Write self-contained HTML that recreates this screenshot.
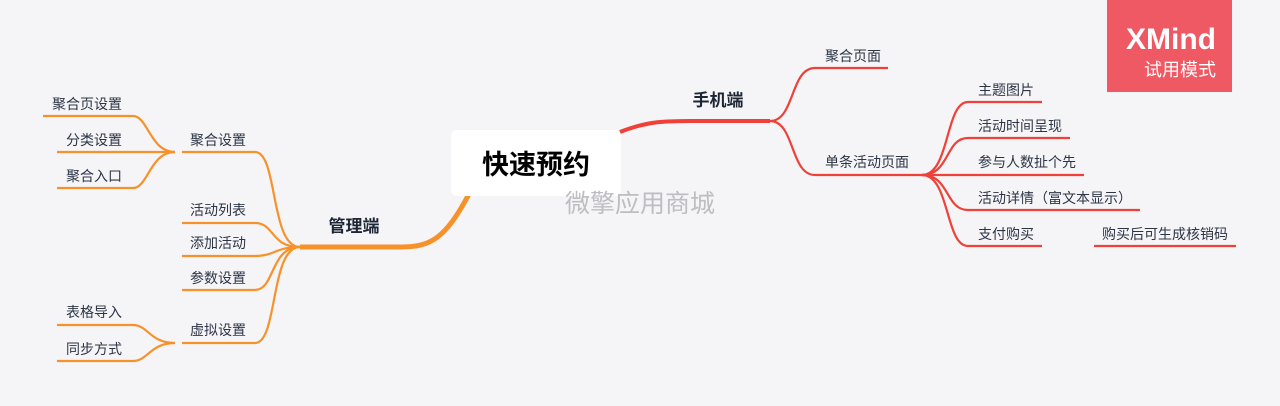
<!DOCTYPE html>
<html><head><meta charset="utf-8"><style>
body{margin:0;width:1280px;height:406px;background:#f5f5f8;overflow:hidden;font-family:"Liberation Sans","Noto Sans CJK SC",sans-serif}
</style></head><body>
<svg width="1280" height="406" xmlns="http://www.w3.org/2000/svg" style="position:absolute;left:0;top:0">
<g fill="none" stroke="#f7922b" stroke-width="2.2">
<path d="M470,192 C445,240 430,247 400,247 L300,247" stroke-width="5"/>
<path d="M300,247 C270,247 278,152 255,152 L182,152"/>
<path d="M300,247 C270,247 275,223 255,223 L182,223"/>
<path d="M300,247 C275,247 275,256 255,256 L182,256"/>
<path d="M300,247 C270,247 275,290 255,290 L182,290"/>
<path d="M300,247 C270,247 278,343 255,343 L182,343"/>
<path d="M175,152 C150,152 148,116 133,116 L43,116"/>
<path d="M175,152 L57,152"/>
<path d="M175,152 C150,152 148,188 133,188 L57,188"/>
<path d="M175,343 C150,343 148,325 133,325 L57,325"/>
<path d="M175,343 C150,343 148,361 133,361 L57,361"/>
</g>
<g fill="none" stroke="#ef4138" stroke-width="2.2">
<path d="M620,132 C650,120 670,121 700,121 L770,121" stroke-width="4"/>
<path d="M770,121 C795,121 790,68 815,68 L888,68"/>
<path d="M770,121 C795,121 790,175 815,175 L922,175"/>
<path d="M922,175 C950,175 945,102 968,102 L1042,102"/>
<path d="M922,175 C950,175 945,138 968,138 L1070,138"/>
<path d="M922,175 L1084,175"/>
<path d="M922,175 C950,175 945,210 968,210 L1140,210"/>
<path d="M922,175 C950,175 945,246 968,246 L1042,246"/>
<path d="M1094,246 L1236,246"/>
</g>
<rect x="451" y="130" width="170" height="66" rx="6" fill="#fff"/>
<g font-family="Liberation Sans,Noto Sans CJK SC,sans-serif" fill="#2d3544" font-size="14">
<text x="536" y="174" font-size="27" font-weight="bold" fill="#000" text-anchor="middle">快速预约</text>
<text x="640" y="212" font-size="25" fill="#bdbdc2" text-anchor="middle">微擎应用商城</text>
<text x="354" y="232" font-size="17" font-weight="bold" fill="#1e2636" text-anchor="middle">管理端</text>
<text x="718" y="106" font-size="17" font-weight="bold" fill="#1e2636" text-anchor="middle">手机端</text>
<text x="190" y="145">聚合设置</text>
<text x="190" y="215">活动列表</text>
<text x="190" y="248">添加活动</text>
<text x="190" y="283">参数设置</text>
<text x="190" y="335">虚拟设置</text>
<text x="52" y="109">聚合页设置</text>
<text x="66" y="145">分类设置</text>
<text x="66" y="181">聚合入口</text>
<text x="66" y="317">表格导入</text>
<text x="66" y="354">同步方式</text>
<text x="825" y="61">聚合页面</text>
<text x="825" y="167">单条活动页面</text>
<text x="978" y="95">主题图片</text>
<text x="978" y="131">活动时间呈现</text>
<text x="978" y="167">参与人数扯个先</text>
<text x="978" y="203">活动详情（富文本显示）</text>
<text x="978" y="239">支付购买</text>
<text x="1102" y="239">购买后可生成核销码</text>
</g>
<rect x="1107" y="0" width="125" height="92" fill="#ef5964"/>
<text x="1216" y="49" font-family="Liberation Sans,sans-serif" font-size="30" font-weight="bold" fill="#fff" text-anchor="end">XMind</text>
<text x="1216" y="76" font-family="Liberation Sans,Noto Sans CJK SC,sans-serif" font-size="18" fill="#fff" text-anchor="end">试用模式</text>
</svg>
</body></html>
